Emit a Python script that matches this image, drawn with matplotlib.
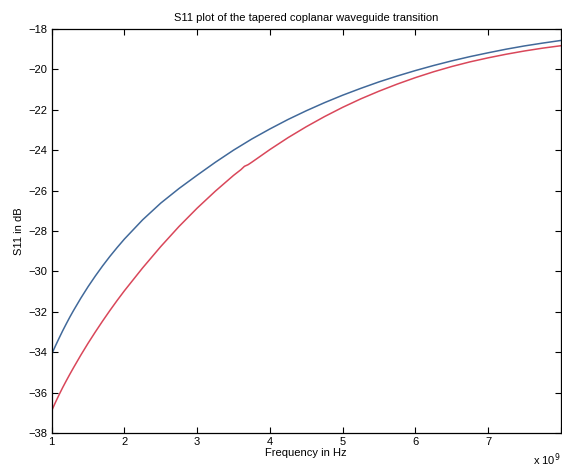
import numpy as np
import matplotlib
matplotlib.use("Agg")
import matplotlib.pyplot as plt

plt.rcParams['font.family'] = ['Liberation Sans', 'DejaVu Sans']

# frequency in units of 1e9 Hz
freq_blue = [1.0, 1.05, 1.1, 1.15, 1.2, 1.25, 1.3, 1.4, 1.5, 1.6, 1.7, 1.8, 1.9,
             2.0, 2.25, 2.5, 2.75, 3.0, 3.25, 3.5, 3.75, 4.0, 4.25, 4.5, 4.75,
             5.0, 5.25, 5.5, 5.75, 6.0, 6.25, 6.5, 6.75, 7.0, 7.25, 7.5, 7.75, 8.0]
s11_blue = [-34.1, -33.7, -33.32, -32.95, -32.6, -32.26, -31.94, -31.33, -30.76,
            -30.23, -29.73, -29.26, -28.82, -28.4, -27.45, -26.62, -25.9, -25.24,
            -24.6, -24.0, -23.45, -22.95, -22.48, -22.05, -21.65, -21.28, -20.94,
            -20.62, -20.33, -20.06, -19.81, -19.58, -19.37, -19.18, -19.0, -18.84,
            -18.7, -18.57]

freq_red = [1.0, 1.05, 1.1, 1.15, 1.2, 1.25, 1.3, 1.4, 1.5, 1.6, 1.7, 1.8, 1.9,
            2.0, 2.25, 2.5, 2.75, 3.0, 3.25, 3.5, 3.6, 3.65, 3.7, 3.75, 4.0, 4.25,
            4.5, 4.75, 5.0, 5.25, 5.5, 5.75, 6.0, 6.25, 6.5, 6.75, 7.0, 7.25, 7.5,
            7.75, 8.0]
s11_red = [-36.9, -36.5, -36.12, -35.76, -35.42, -35.09, -34.77, -34.15, -33.56,
           -33.0, -32.46, -31.94, -31.44, -30.96, -29.83, -28.77, -27.78, -26.87,
           -26.03, -25.25, -24.97, -24.8, -24.72, -24.6, -23.97, -23.38, -22.84,
           -22.34, -21.88, -21.46, -21.08, -20.73, -20.41, -20.12, -19.86, -19.63,
           -19.43, -19.25, -19.09, -18.95, -18.83]

x_ticks = [1, 2, 3, 4, 5, 6, 7, 8]
x_labels = ['1', '2', '3', '4', '5', '6', '7', '']  # 8 is cut off in the original
y_ticks = np.arange(-38, -17, 2)

fig = plt.figure(figsize=(5.62, 4.67), dpi=100)
ax = fig.add_axes([0.092, 0.073, 0.906, 0.865])

ax.plot(freq_blue, s11_blue, color='#41699a', lw=1.1)
ax.plot(freq_red, s11_red, color='#d9475a', lw=1.1)

ax.set_xlim(1, 8)
ax.set_ylim(-38, -18)
ax.set_xticks(x_ticks)
ax.set_yticks(y_ticks)
ax.set_xticklabels(x_labels)
ax.set_yticklabels([str(t).replace('-', '\u2212') for t in y_ticks])
ax.tick_params(direction='in', top=True, right=True, length=4, width=0.8,
               labelsize=8, pad=3)
for s in ax.spines.values():
    s.set_linewidth(0.9)

ax.set_title('S11 plot of the tapered coplanar waveguide transition', fontsize=8, pad=6)
ax.set_xlabel('Frequency in Hz', fontsize=8, labelpad=1)
ax.set_ylabel('S11 in dB', fontsize=8, labelpad=3)
fig.text(0.948, 0.006, 'x 10$^{9}$', fontsize=8)

fig.savefig('out.png', dpi=100)
